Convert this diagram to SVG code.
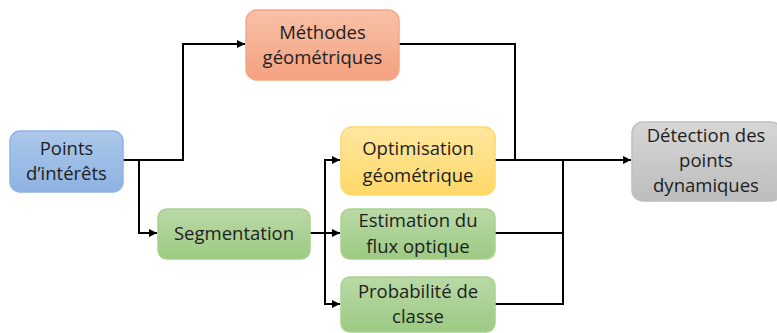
<svg xmlns="http://www.w3.org/2000/svg" width="777" height="333" viewBox="0 0 777 333">
<defs>
<linearGradient id="gOr" x1="0" y1="0" x2="0" y2="1"><stop offset="0" stop-color="#F8C1A8"/><stop offset="1" stop-color="#F4A17F"/></linearGradient>
<linearGradient id="gBl" x1="0" y1="0" x2="0" y2="1"><stop offset="0" stop-color="#ADC8EA"/><stop offset="1" stop-color="#8DB2E2"/></linearGradient>
<linearGradient id="gYe" x1="0" y1="0" x2="0" y2="1"><stop offset="0" stop-color="#FFE7A0"/><stop offset="1" stop-color="#FFD867"/></linearGradient>
<linearGradient id="gGr" x1="0" y1="0" x2="0" y2="1"><stop offset="0" stop-color="#B9D9A6"/><stop offset="1" stop-color="#9DCA83"/></linearGradient>
<linearGradient id="gGy" x1="0" y1="0" x2="0" y2="1"><stop offset="0" stop-color="#D6D6D6"/><stop offset="1" stop-color="#BDBDBD"/></linearGradient>
<marker id="arr" viewBox="0 0 10 10" refX="10" refY="5" markerWidth="4" markerHeight="4" orient="auto" markerUnits="strokeWidth"><path d="M0,0 L10,5 L0,10 z" fill="#000"/></marker>
</defs>
<style>
.box{stroke-width:1.5}
.t{font-family:"Open Sans","Noto Sans",sans-serif;font-size:18.5px;fill:#1e1e1e;text-anchor:middle}
.c{fill:none;stroke:#000;stroke-width:2}
</style>
<g id="connectors">
<path class="c" d="M123,160 H183 V44 H245" marker-end="url(#arr)"/>
<path class="c" d="M139,160 V233 H157" marker-end="url(#arr)"/>
<path class="c" d="M310,233 H340" marker-end="url(#arr)"/>
<path class="c" d="M325,233 V160 H340" marker-end="url(#arr)"/>
<path class="c" d="M325,233 V304 H340" marker-end="url(#arr)"/>
<path class="c" d="M399,44 H515 V160"/>
<path class="c" d="M495,160 H563"/>
<path class="c" d="M563,160 H631" stroke-width="3" marker-end="url(#arr)"/>
<path class="c" d="M495,233 H563 V160"/>
<path class="c" d="M495,304 H563 V233"/>
</g>
<g id="methodes">
<rect class="box" x="246" y="10" width="153" height="70" rx="11" fill="url(#gOr)" stroke="#F4A884"/>
<text class="t" x="322.5" y="39">Méthodes</text>
<text class="t" x="322.5" y="64">géométriques</text>
</g>
<g id="points">
<rect class="box" x="10" y="131" width="113" height="61" rx="10" fill="url(#gBl)" stroke="#8DB4E3"/>
<text class="t" x="66.5" y="155">Points</text>
<text class="t" x="66.5" y="180">d’intérêts</text>
</g>
<g id="optimisation">
<rect class="box" x="341" y="127" width="154" height="68" rx="11" fill="url(#gYe)" stroke="#FFD966"/>
<text class="t" x="418" y="155">Optimisation</text>
<text class="t" x="418" y="182">géométrique</text>
</g>
<g id="segmentation">
<rect class="box" x="158" y="209" width="152" height="50" rx="9" fill="url(#gGr)" stroke="#A9D18E"/>
<text class="t" x="234" y="240">Segmentation</text>
</g>
<g id="estimation">
<rect class="box" x="341" y="209" width="154" height="50" rx="9" fill="url(#gGr)" stroke="#A9D18E"/>
<text class="t" x="418" y="227">Estimation du</text>
<text class="t" x="418" y="253">flux optique</text>
</g>
<g id="probabilite">
<rect class="box" x="341" y="277" width="154" height="55" rx="9" fill="url(#gGr)" stroke="#A9D18E"/>
<text class="t" x="418" y="298">Probabilité de</text>
<text class="t" x="418" y="323">classe</text>
</g>
<g id="detection">
<rect class="box" x="632" y="122" width="150" height="79" rx="11" fill="url(#gGy)" stroke="#BFBFBF"/>
<text class="t" x="706" y="142">Détection des</text>
<text class="t" x="706" y="167">points</text>
<text class="t" x="706" y="192">dynamiques</text>
</g>
</svg>
